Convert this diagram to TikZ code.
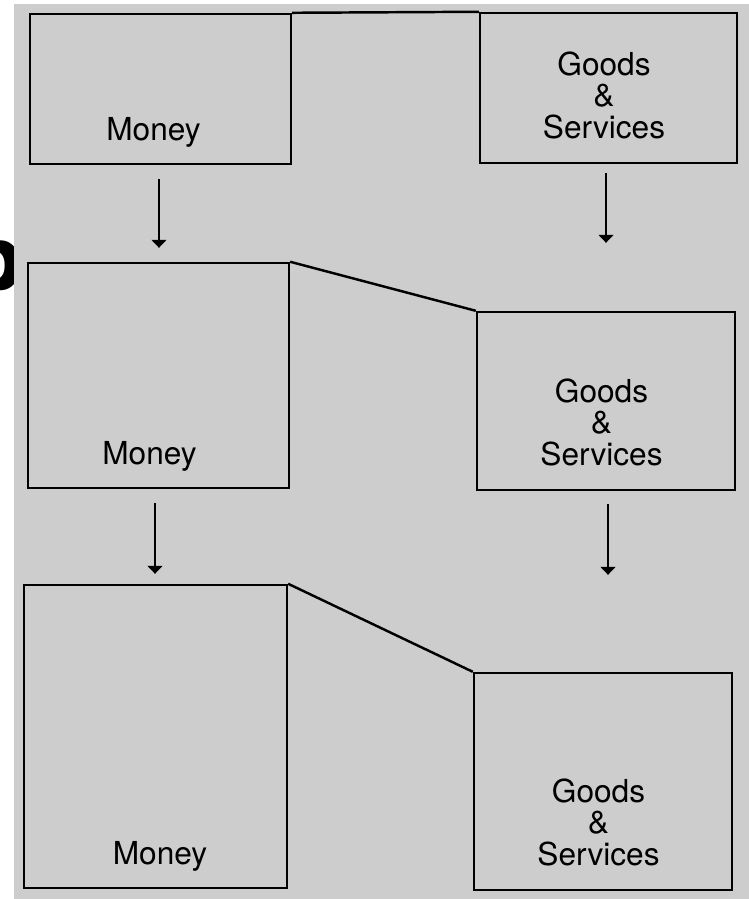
\documentclass[tikz,border=0pt]{standalone}
\usepackage{fontspec}
\setmainfont{TeX Gyre Heros}
\newfontfamily\strayfont{DejaVu Sans}
\usetikzlibrary{arrows.meta}
\definecolor{paper}{RGB}{205,205,205}

\begin{document}
\begin{tikzpicture} [x=0.02cm, y=-0.02cm,
  box/.style={draw, line width=1.4pt, inner sep=0pt},
  lbl/.style={inner sep=0pt, align=center, font=\fontsize{18pt}{18pt}\selectfont},
  flow/.style={-{Triangle[width=0.3cm,length=0.16cm]}, line width=0.8pt},
  link/.style={line width=1.4pt}]
\clip (0,0) rectangle (749,899);
\node [inner sep=0pt, anchor=base west, font=\strayfont\bfseries\fontsize{49.5pt}{50pt}\selectfont] (stray) at (-38,289) {p};
\fill [paper] (14,4) rectangle (749,899);
% boxes
\node [box, minimum width=5.22cm, minimum height=3cm] (m1) at (160.5,89) {};
\node [box, minimum width=5.14cm, minimum height=3cm] (g1) at (608.5,88) {};
\node [box, minimum width=5.22cm, minimum height=4.5cm] (m2) at (158.5,375.5) {};
\node [box, minimum width=5.16cm, minimum height=3.56cm] (g2) at (606,401) {};
\node [box, minimum width=5.26cm, minimum height=6.06cm] (m3) at (155.5,736.5) {};
\node [box, minimum width=5.16cm, minimum height=4.34cm] (g3) at (603,781.5) {};
% labels
\node [lbl, anchor=base] (m1t) at ([xshift=-0.14cm, yshift=0.49cm]m1.south) {Money};
\node [lbl, anchor=base] (m2t) at ([xshift=-0.18cm, yshift=0.49cm]m2.south) {Money};
\node [lbl, anchor=base] (m3t) at ([xshift=0.09cm, yshift=0.49cm]m3.south) {Money};
\node [lbl, anchor=south] (g1t) at ([xshift=-0.09cm, yshift=0.5cm]g1.south) {Goods\\\&\\Services};
\node [lbl, anchor=south] (g2t) at ([xshift=-0.09cm, yshift=0.5cm]g2.south) {Goods\\\&\\Services};
\node [lbl, anchor=south] (g3t) at ([xshift=-0.09cm, yshift=0.5cm]g3.south) {Goods\\\&\\Services};
% links between columns
\draw [link] (m1.north east) -- (g1.north west);
\draw [link] (m2.north east) -- (g2.north west);
\draw [link] (m3.north east) -- (g3.north west);
% arrows
\draw [flow, shorten <=0.28cm, shorten >=0.28cm] ([xshift=-0.03cm]m1.south) -- ([xshift=-0.03cm]m1.south |- m2.north);
\draw [flow, shorten <=0.18cm, shorten >=1.36cm] ([xshift=-0.05cm]g1.south) -- ([xshift=-0.05cm]g1.south |- g2.north);
\draw [flow, shorten <=0.28cm, shorten >=0.2cm] ([xshift=-0.07cm]m2.south) -- ([xshift=-0.07cm]m2.south |- m3.north);
\draw [flow, shorten <=0.26cm, shorten >=1.94cm] ([xshift=0.04cm]g2.south) -- ([xshift=0.04cm]g2.south |- g3.north);
\end{tikzpicture}
\end{document}
